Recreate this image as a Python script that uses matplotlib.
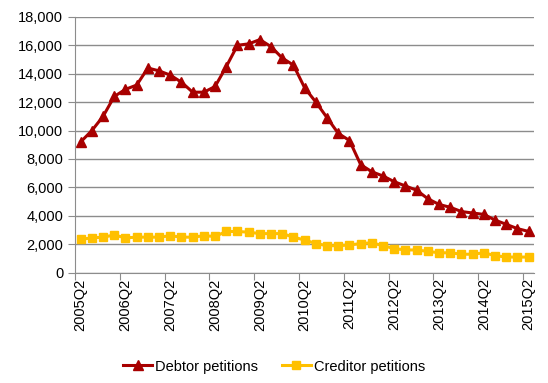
import numpy as np
import matplotlib.pyplot as plt
from matplotlib.ticker import FuncFormatter, FixedLocator

plt.rcParams['font.family'] = ['Liberation Sans', 'DejaVu Sans']

# quarterly series, 2005Q2 .. 2015Q2
quarters = [f"{y}Q{q}" for y in range(2005, 2016) for q in range(1, 5)][1:42]
debtor = [9200, 10000, 11000, 12400, 12900, 13200, 14400, 14200, 13900, 13400,
          12700, 12700, 13100, 14500, 16000, 16100, 16400, 15900, 15100, 14600,
          13000, 12000, 10900, 9800, 9300, 7600, 7100, 6800, 6400, 6100,
          5800, 5200, 4800, 4600, 4300, 4200, 4100, 3700, 3400, 3100, 2900]
creditor = [2350, 2450, 2500, 2650, 2450, 2500, 2500, 2500, 2600, 2500,
            2500, 2600, 2550, 2900, 2900, 2850, 2750, 2750, 2750, 2500,
            2300, 2050, 1900, 1900, 1950, 2050, 2100, 1900, 1700, 1600,
            1600, 1500, 1400, 1400, 1300, 1300, 1400, 1200, 1100, 1100, 1100]

x = np.arange(len(quarters))

fig = plt.figure(figsize=(5.48, 3.83), dpi=100)
ax = fig.add_axes([0.137, 0.288, 0.838, 0.668])

ax.plot(x, debtor, color='#A80000', lw=2.2, marker='^', ms=7, label='Debtor petitions')
ax.plot(x, creditor, color='#FFC000', lw=2.2, marker='s', ms=5.5, label='Creditor petitions')

ax.set_xlim(-0.5, len(x) - 0.5)
ax.set_ylim(0, 18000)
ax.set_yticks(np.arange(0, 18001, 2000))
ax.yaxis.set_major_formatter(FuncFormatter(lambda v, p: f"{int(v):,}"))
ax.grid(axis='y', color='#8c8c8c', lw=1)
ax.set_axisbelow(True)

# tick marks between categories, labels on each Q2
ax.xaxis.set_major_locator(FixedLocator(np.arange(-0.5, len(x), 4)))
ax.set_xticklabels([])
ax.set_xticks(x[::4], minor=True)
ax.set_xticklabels(quarters[::4], minor=True, rotation=90, fontsize=10.5)
ax.tick_params(axis='x', which='minor', length=0, pad=4)
ax.tick_params(axis='x', which='major', length=5, color='#8c8c8c')
ax.tick_params(axis='y', length=5, color='#8c8c8c', labelsize=10.5)

for s in ['top', 'right']:
    ax.spines[s].set_visible(False)
for s in ['left', 'bottom']:
    ax.spines[s].set_color('#8c8c8c')

fig.legend(loc='center', bbox_to_anchor=(0.5, 0.043), ncol=2, frameon=False,
           fontsize=10.5, handlelength=2.0, columnspacing=1.6, handletextpad=0.2)

plt.savefig('out.png', dpi=100)
